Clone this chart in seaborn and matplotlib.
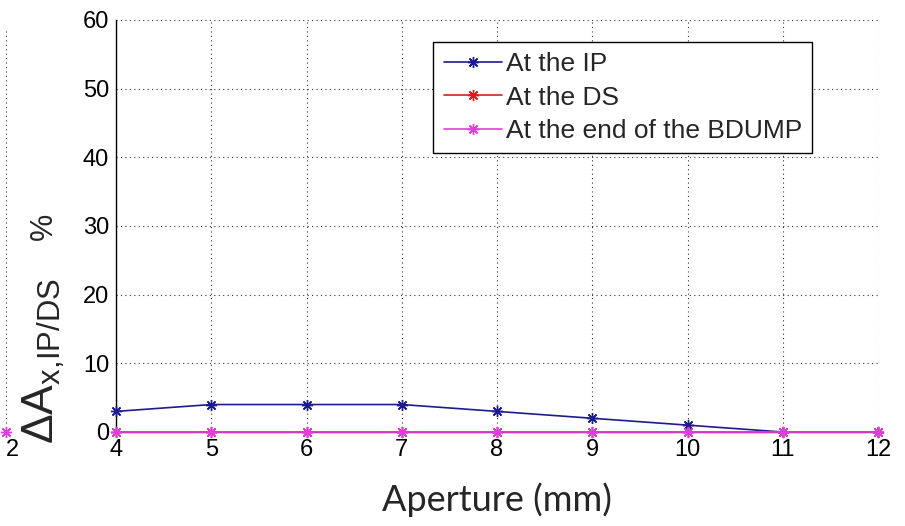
import matplotlib
matplotlib.use("Agg")
import matplotlib.pyplot as plt
import pandas as pd
import seaborn as sns

# aperture scan values
aperture = [4, 5, 6, 7, 8, 9, 10, 11, 12]
at_ip = [3, 4, 4, 4, 3, 2, 1, 0, 0]
at_ds = [0, 0, 0, 0, 0, 0, 0, 0, 0]
at_bdump = [0, 0, 0, 0, 0, 0, 0, 0, 0]
labels = ["At the IP", "At the DS", "At the end of the BDUMP"]
colors = ["#1c1c8f", "#d42020", "#e03ce0"]
y_ticks = [0, 10, 20, 30, 40, 50, 60]

# the bit of the neighbouring panel that shows at the left edge
prev_x = [2]
prev_bdump = [0]

sns.set_theme(style="white")
plt.rcParams["font.family"] = ["Liberation Sans", "DejaVu Sans"]
plt.rcParams["mathtext.fontset"] = "custom"
plt.rcParams["mathtext.rm"] = "Liberation Sans"
plt.rcParams["mathtext.it"] = "Liberation Sans"

series = {labels[0]: at_ip, labels[1]: at_ds, labels[2]: at_bdump}
star = (8, 2, 0)  # matlab style asterisk

fig = plt.figure(figsize=(9.05, 5.26), dpi=100)
W, H = 905, 526
ax = fig.add_axes([116 / W, 1 - 432 / H, 762 / W, 412 / H])

for (name, vals), c in zip(series.items(), colors):
    d = pd.DataFrame({"aperture": aperture, "value": vals})
    sns.lineplot(data=d, x="aperture", y="value", color=c, label=name,
                 marker=star, markersize=8, markeredgewidth=1.0,
                 markeredgecolor=c, linewidth=1.2, ax=ax)
for ln in ax.get_lines():
    ln.set_clip_on(False)
    ln.set_zorder(3)

ax.set_xlim(4, 12)
ax.set_ylim(0, 60)
ax.set_xticks(aperture)
ax.set_yticks(y_ticks)
ax.grid(True, color="#333333", linestyle=(0, (1, 3)), linewidth=0.8)
for s in ["top", "right"]:
    ax.spines[s].set_visible(False)
for s in ["left", "bottom"]:
    ax.spines[s].set_color("black")
    ax.spines[s].set_linewidth(1.0)
ax.tick_params(direction="in", length=5, width=0.8, color="black",
               labelcolor="black", labelsize=17, pad=5)
ax.set_xlabel("")
ax.set_ylabel("")

leg = ax.legend(loc="upper left", bbox_to_anchor=(0.416, 0.947), fontsize=19,
                frameon=True, fancybox=False, edgecolor="black", framealpha=1,
                handlelength=2.2, borderpad=0.4, labelspacing=0.35,
                handletextpad=0.15, borderaxespad=0)
leg.get_frame().set_linewidth(1.0)
leg.set_zorder(5)

# neighbouring panel remnant
ax0 = fig.add_axes([(7 - 300) / W, 1 - 432 / H, 300 / W, 404 / H])
sns.lineplot(x=prev_x, y=prev_bdump, color=colors[2], marker=star,
             markersize=8, markeredgewidth=1.0, markeredgecolor=colors[2], ax=ax0)
ax0.set_xlim(0, 2.01)
ax0.set_ylim(0, 60)
ax0.set_xticks(prev_x)
ax0.set_yticks([])
ax0.grid(True, axis="x", color="#333333", linestyle=(0, (1, 3)), linewidth=0.8)
for s in ax0.spines.values():
    s.set_visible(False)
ax0.tick_params(direction="in", length=5, width=0.8, color="black",
                labelcolor="black", labelsize=17, pad=5)
ax0.patch.set_alpha(0)
for t in ax0.get_xticklabels():
    t.set_horizontalalignment("left")
for ln in ax0.get_lines():
    ln.set_clip_on(False)

fig.text(44 / W, 1 - 361 / H, r"$\Delta\mathrm{A}_{\mathrm{x{,}IP/DS}}$", rotation=90,
         fontsize=32, ha="center", va="center")
fig.text(44 / W, 1 - 226 / H, "%", rotation=90, fontsize=22,
         ha="center", va="center")
fig.text(497 / W, 1 - 500 / H, "Aperture (mm)", fontsize=26,
         family=["Lato", "DejaVu Sans"], ha="center", va="center")

fig.savefig("out.png", dpi=100)
